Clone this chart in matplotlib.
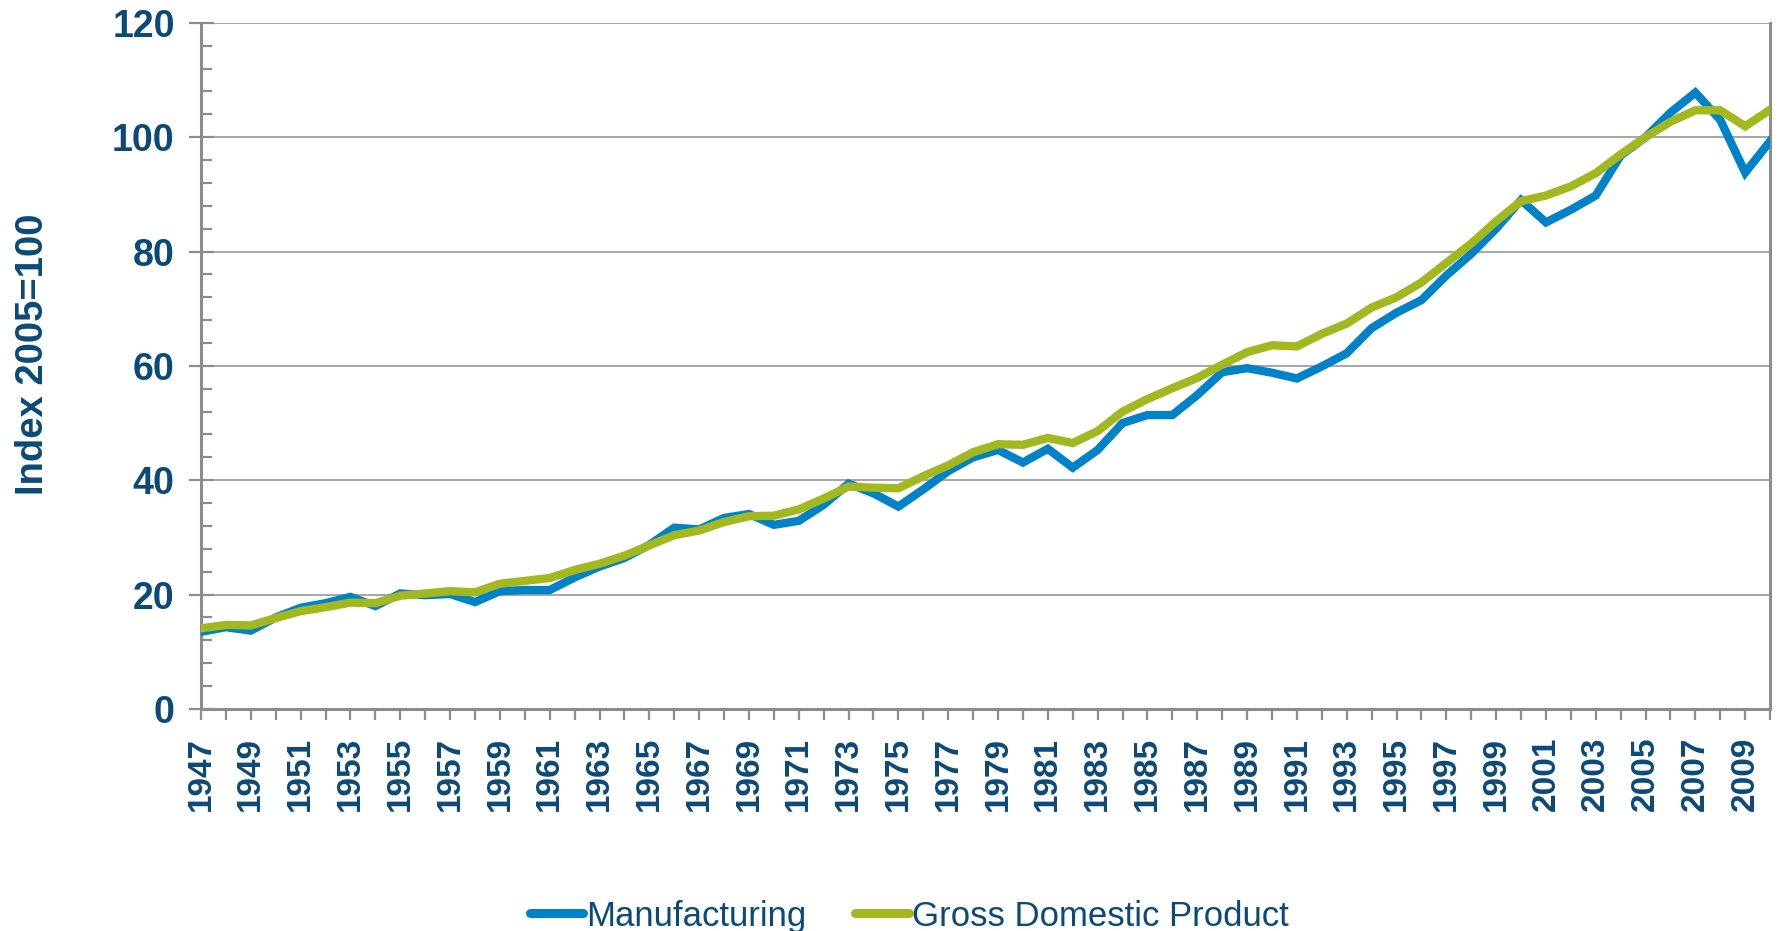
import numpy as np
import matplotlib
matplotlib.use("Agg")
import matplotlib.pyplot as plt
from matplotlib.ticker import MultipleLocator

# Index 2005=100, annual 1947-2010
years = list(range(1947, 2011))
manufacturing = [
    13.5, 14.3, 13.7, 16.0, 17.7, 18.5, 19.6, 18.0, 20.2, 19.9,
    20.1, 18.7, 20.6, 20.8, 20.8, 23.0, 24.9, 26.4, 28.7, 31.7,
    31.4, 33.4, 34.1, 32.2, 32.9, 35.7, 39.4, 37.7, 35.4, 38.4,
    41.6, 44.0, 45.3, 43.1, 45.5, 42.2, 45.3, 50.0, 51.4, 51.4,
    54.9, 58.9, 59.6, 58.8, 57.8, 59.9, 62.2, 66.6, 69.3, 71.5,
    75.8, 79.6, 84.0, 89.0, 85.1, 87.3, 89.8, 96.8, 100.0, 104.3,
    107.8, 103.0, 93.8, 99.3,
]
gdp = [
    14.1, 14.7, 14.6, 15.9, 17.1, 17.8, 18.6, 18.5, 19.8, 20.2,
    20.6, 20.4, 21.9, 22.4, 22.9, 24.3, 25.4, 26.8, 28.6, 30.4,
    31.2, 32.7, 33.7, 33.8, 34.9, 36.8, 38.9, 38.7, 38.6, 40.7,
    42.6, 44.9, 46.3, 46.2, 47.4, 46.5, 48.6, 52.0, 54.2, 56.1,
    57.9, 60.2, 62.4, 63.6, 63.4, 65.6, 67.4, 70.2, 72.0, 74.6,
    78.0, 81.4, 85.3, 88.8, 89.8, 91.4, 93.7, 97.0, 100.0, 102.7,
    104.7, 104.7, 101.9, 104.8,
]
series_names = ["Manufacturing", "Gross Domestic Product"]

TXT = "#0B4A78"
BLUE = "#0082C8"
GREEN = "#A3B71F"
GRID = "#A6A6A6"
AXC = "#8C8C8C"
FONT = ["Liberation Sans", "DejaVu Sans"]

fig = plt.figure(figsize=(17.79, 9.31), dpi=100)
ax = fig.add_axes([0.113, 0.2385, 0.882, 0.737])

ax.plot(years, manufacturing, color=BLUE, lw=6, label=series_names[0],
        solid_joinstyle="miter", zorder=3)
ax.plot(years, gdp, color=GREEN, lw=6, label=series_names[1],
        solid_joinstyle="miter", zorder=4)

ax.set_xlim(1947, 2010)
ax.set_ylim(0, 120)

ax.yaxis.set_major_locator(MultipleLocator(20))
ax.yaxis.set_minor_locator(MultipleLocator(4))
ax.grid(axis="y", which="major", color=GRID, lw=1.4, zorder=1)
ax.set_axisbelow(True)

ax.set_xticks(years)
ax.set_xticklabels([str(y) if y % 2 == 1 else "" for y in years],
                   rotation=90, fontsize=24, fontweight="bold",
                   color=TXT, family=FONT)
ax.tick_params(axis="x", which="major", direction="out", length=8,
               width=1.6, color=AXC, pad=12)
ax.tick_params(axis="y", which="major", direction="inout", length=18,
               width=1.6, color=AXC, pad=10, labelsize=27, labelcolor=TXT)
ax.tick_params(axis="y", which="minor", direction="in", length=8,
               width=1.6, color=AXC)
for lab in ax.get_yticklabels():
    lab.set_fontweight("heavy")
    lab.set_family(FONT)

for side in ["left", "bottom", "right"]:
    ax.spines[side].set_color(AXC)
    ax.spines[side].set_linewidth(2.2)
ax.spines["top"].set_visible(False)

fig.text(0.0185, 0.619, "Index 2005=100", rotation=90, ha="center",
         va="center", fontsize=27.5, fontweight="bold", color=TXT,
         family=FONT)

leg = fig.legend(loc="center", bbox_to_anchor=(0.511, 0.016), ncol=2,
                 frameon=False, handlelength=1.55,
                 handletextpad=0.08, columnspacing=1.4,
                 prop={"family": FONT, "size": 25})
for t in leg.get_texts():
    t.set_color(TXT)
for h in leg.get_lines():
    h.set_linewidth(6.5)
    h.set_solid_capstyle("round")

fig.savefig("out.png", dpi=100)
